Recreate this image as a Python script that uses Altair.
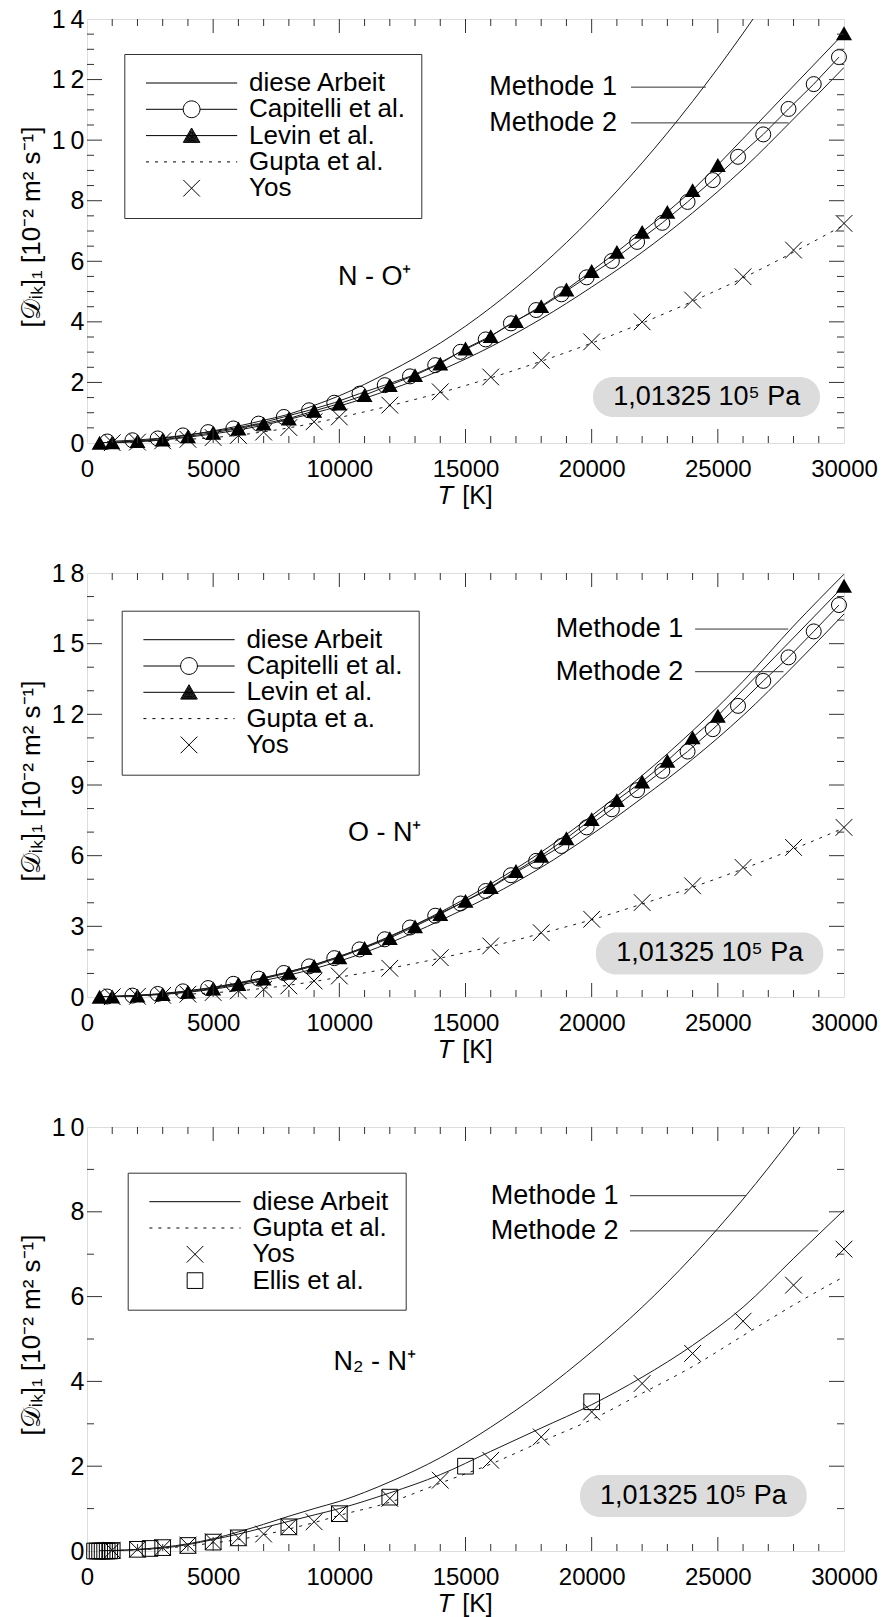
import altair as alt
import pandas as pd

FONT = "Liberation Sans"
W, H = 757, 424

# ---------------------------------------------------------------- axes / ticks
X_LABELS = [0, 5000, 10000, 15000, 20000, 25000, 30000]
X_MAJOR = [5000, 10000, 15000, 20000, 25000]
X_MINOR = [1000, 2000, 3000, 4000, 6000, 7000, 8000, 9000, 11000, 12000, 13000, 14000,
           16000, 17000, 18000, 19000, 21000, 22000, 23000, 24000, 26000, 27000, 28000, 29000]

P1_Y_LABELS = [0, 2, 4, 6, 8, 10, 12, 14]
P1_Y_MINOR = [0.5, 1, 1.5, 2.5, 3, 3.5, 4.5, 5, 5.5, 6.5, 7, 7.5, 8.5, 9, 9.5,
              10.5, 11, 11.5, 12.5, 13, 13.5]
P2_Y_LABELS = [0, 3, 6, 9, 12, 15, 18]
P2_Y_MINOR = [1, 2, 4, 5, 7, 8, 10, 11, 13, 14, 16, 17]
P3_Y_LABELS = [0, 2, 4, 6, 8, 10]
P3_Y_MINOR = [1, 3, 5, 7, 9]
X_TITLE = "𝑇 [K]"
Y_TITLE = "[𝒟ᵢₖ]₁  [10⁻² m² s⁻¹]"

# ---------------------------------------------------------------- temperatures
T_LINE = [500, 1000, 2000, 3000, 4000, 5000, 6000, 7000, 8000, 9000, 10000,
          12000, 14000, 16000, 18000, 20000, 22000, 24000, 26000, 28000, 30000]
T_LEVIN = [500, 1000, 2000, 3000, 4000, 5000, 6000, 7000, 8000, 9000, 10000, 11000,
           12000, 13000, 14000, 15000, 16000, 17000, 18000, 19000, 20000, 21000,
           22000, 23000, 24000, 25000, 30000]
T_CAP = [800, 1800, 2800, 3800, 4800, 5800, 6800, 7800, 8800, 9800, 10800, 11800,
         12800, 13800, 14800, 15800, 16800, 17800, 18800, 19800, 20800, 21800,
         22800, 23800, 24800, 25800, 26800, 27800, 28800, 29800]
T_YOS = [1000, 2000, 3000, 4000, 5000, 6000, 7000, 8000, 9000, 10000,
         12000, 14000, 16000, 18000, 20000, 22000, 24000, 26000, 28000, 30000]
T_ELLIS = [300, 400, 500, 600, 700, 800, 900, 1000, 2000, 2500, 3000, 4000, 5000,
           6000, 8000, 10000, 12000, 15000, 20000]

# ---------------------------------------------------------------- panel 1: N - O+
P1_M1 = [0.002, 0.02, 0.07, 0.15, 0.26, 0.4, 0.56, 0.75, 0.95, 1.24, 1.56, 2.36, 3.3,
         4.47, 5.85, 7.44, 9.25, 11.28, 13.53, 16.0, 18.7]
P1_M2 = [0.002, 0.01, 0.04, 0.1, 0.19, 0.3, 0.43, 0.59, 0.78, 0.99, 1.22, 1.76, 2.4,
         3.18, 4.1, 5.15, 6.3, 7.6, 9.05, 10.7, 12.4]
P1_LEVIN = [0.01, 0.02, 0.06, 0.11, 0.22, 0.34, 0.48, 0.64, 0.81, 1.06, 1.30, 1.58,
            1.91, 2.24, 2.62, 3.12, 3.53, 4.03, 4.52, 5.07, 5.68, 6.31, 6.97, 7.63,
            8.35, 9.18, 13.53]
P1_CAP = [0.05, 0.09, 0.15, 0.25, 0.36, 0.48, 0.64, 0.86, 1.08, 1.33, 1.63, 1.91,
          2.2, 2.57, 3.01, 3.42, 3.95, 4.39, 4.91, 5.47, 6.01, 6.64, 7.27, 7.96,
          8.68, 9.45, 10.19, 11.03, 11.85, 12.74]
P1_YOS = [0.01, 0.03, 0.07, 0.12, 0.18, 0.25, 0.36, 0.51, 0.7, 0.86, 1.25, 1.69,
          2.18, 2.73, 3.34, 4.0, 4.72, 5.49, 6.37, 7.25]
P1_GUPTA = [0.01, 0.03, 0.07, 0.12, 0.18, 0.26, 0.37, 0.5, 0.66, 0.84, 1.23, 1.66,
            2.15, 2.7, 3.3, 3.96, 4.68, 5.45, 6.3, 7.2]

# ---------------------------------------------------------------- panel 2: O - N+
P2_M1 = [0.005, 0.02, 0.07, 0.14, 0.25, 0.4, 0.58, 0.8, 1.07, 1.37, 1.72, 2.58, 3.6,
         4.8, 6.15, 7.7, 9.4, 11.3, 13.4, 15.75, 17.95]
P2_M2 = [0.003, 0.01, 0.05, 0.11, 0.2, 0.33, 0.5, 0.7, 0.93, 1.2, 1.52, 2.3, 3.25,
         4.3, 5.5, 6.9, 8.45, 10.1, 11.95, 14.05, 16.26]
P2_LEVIN = [0.01, 0.02, 0.06, 0.12, 0.22, 0.36, 0.55, 0.78, 1.03, 1.32, 1.68, 2.08,
            2.5, 3.0, 3.52, 4.08, 4.67, 5.35, 5.99, 6.74, 7.55, 8.36, 9.15, 10.03,
            11.02, 11.94, 17.46]
P2_CAP = [0.02, 0.06, 0.13, 0.24, 0.38, 0.56, 0.78, 1.02, 1.3, 1.65, 2.02, 2.45,
          2.95, 3.45, 3.97, 4.5, 5.17, 5.78, 6.41, 7.2, 7.97, 8.78, 9.6, 10.42,
          11.37, 12.36, 13.42, 14.42, 15.52, 16.64]
P2_YOS = [0.01, 0.03, 0.07, 0.12, 0.19, 0.26, 0.33, 0.47, 0.68, 0.89, 1.22, 1.67,
          2.17, 2.73, 3.3, 4.01, 4.72, 5.5, 6.35, 7.2]
P2_GUPTA = [0.01, 0.03, 0.07, 0.12, 0.18, 0.26, 0.37, 0.5, 0.66, 0.84, 1.22, 1.65,
            2.14, 2.7, 3.28, 3.95, 4.66, 5.44, 6.28, 7.18]

# ---------------------------------------------------------------- panel 3: N2 - N+
P3_M1 = [0.003, 0.01, 0.04, 0.09, 0.17, 0.29, 0.45, 0.63, 0.82, 1.0, 1.17, 1.63, 2.2,
         2.92, 3.75, 4.7, 5.75, 6.95, 8.3, 9.8, 11.4]
P3_M2 = [0.002, 0.01, 0.03, 0.07, 0.15, 0.27, 0.4, 0.55, 0.7, 0.85, 1.0, 1.37, 1.8,
         2.35, 2.9, 3.45, 4.1, 4.85, 5.75, 6.9, 8.04]
P3_YOS = [0.02, 0.04, 0.08, 0.14, 0.22, 0.31, 0.4, 0.57, 0.69, 0.88, 1.24, 1.67,
          2.14, 2.69, 3.28, 3.95, 4.66, 5.42, 6.27, 7.12]
P3_GUPTA = [0.01, 0.03, 0.06, 0.12, 0.19, 0.27, 0.38, 0.52, 0.67, 0.84, 1.15, 1.6,
            2.05, 2.58, 3.1, 3.72, 4.35, 5.08, 5.8, 6.47]
P3_ELLIS = [0.0, 0.0, 0.0, 0.0, 0.0, 0.0, 0.0, 0.01, 0.04, 0.06, 0.08, 0.13, 0.21,
            0.31, 0.57, 0.88, 1.27, 2.0, 3.52]

# ---------------------------------------------------------------- annotations
SPECIES = ["N - O⁺", "O - N⁺", "N₂ - N⁺"]
SPECIES_T = [11400, 11800, 11400]
SPECIES_D = [5.49, 6.98, 4.46]
METH_LABELS = ["Methode 1", "Methode 2"]
METH_TEXT_T = [21000, 23630, 21060]
METH1_D = [11.75, 15.62, 8.38]
METH2_D = [10.57, 13.81, 7.55]
LEADER_T0 = [21560, 24100, 21520]
LEADER1_T1 = [24520, 27790, 26120]
LEADER2_T1 = [27800, 27600, 28980]
PRESS_TEXT = "1,01325 10⁵ Pa"
PRESS_T1 = [20050, 20170, 19540]
PRESS_T2 = [29050, 29180, 28520]
PRESS_D1 = [0.86, 0.96, 0.80]
PRESS_D2 = [2.18, 2.74, 1.79]
PRESS_TC = [24560, 24680, 24030]
PRESS_DC = [1.52, 1.85, 1.30]

LEG1 = ["diese Arbeit", "Capitelli et al.", "Levin et al.", "Gupta et al.", "Yos"]
LEG2 = ["diese Arbeit", "Capitelli et al.", "Levin et al.", "Gupta et a.", "Yos"]
LEG3 = ["diese Arbeit", "Gupta et al.", "Yos", "Ellis et al."]
LEG_X = [37.3, 34.7, 40.7]
LEG_Y = [35.0, 37.7, 45.7]

# ---------------------------------------------------------------- symbol paths (style)
XPATH = "M-1,-1L1,1M-1,1L1,-1"


def dash_path(x0=-5.7, x1=5.7, dash=0.375, gap=0.75):
    parts, x = [], x0
    while x < x1:
        e = min(x + dash, x1)
        parts.append(f"M{x:.3f},0L{e:.3f},0")
        x += dash + gap
    return "".join(parts)


def filled_triangle(ks=(1, 0.86, 0.72, 0.58, 0.44, 0.3, 0.16, 0.05)):
    pts = [(0, -0.95), (1.04, 0.85), (-1.04, 0.85)]
    cy = sum(p[1] for p in pts) / 3
    out = ""
    for k in ks:
        q = [(k * px, cy + k * (py - cy)) for px, py in pts]
        out += f"M{q[0][0]:.3f},{q[0][1]:.3f}L{q[1][0]:.3f},{q[1][1]:.3f}L{q[2][0]:.3f},{q[2][1]:.3f}Z"
    return out


LEG_LINE = "M-5.7,0L5.7,0"
LEG_CIRC = "M-5.7,0L-1.05,0M1.05,0L5.7,0M1.05,0A1.05,1.05,0,1,1,-1.05,0A1.05,1.05,0,1,1,1.05,0Z"
LEG_TRI = "M-5.7,0L5.7,0" + filled_triangle()
LEG_DOT = dash_path()
LEG_X_SYM = "M-1.04,-1.04L1.04,1.04M-1.04,1.04L1.04,-1.04"
LEG_SQ = "M-0.98,-0.98L0.98,-0.98L0.98,0.98L-0.98,0.98Z"

LINE_COLOR = "#1a1a1a"
FRAME = "#333333"


def ylabel_expr():
    return ("length(datum.label) > 1 ? substring(datum.label, 0, 1) + '\u2009' + "
            "substring(datum.label, 1) : datum.label")


def panel(i, ymax, ylabels, yminor, curves, levin, cap, yos, gupta, ellis, legend_names,
          legend_shapes, label_pad):
    xaxis = alt.Axis(values=X_LABELS, format="d", ticks=False, tickSize=0, domain=False,
                     grid=False, labelFontSize=24, labelPadding=14, labelFlush=False,
                     labelColor="black", labelFont=FONT,
                     title=X_TITLE, titleFontSize=25, titleFontWeight="normal",
                     titleFont=FONT, titleColor="black", titleY=52,
                     titleBaseline="middle")
    yaxis = alt.Axis(values=ylabels, ticks=False, tickSize=0, domain=False, grid=False,
                     labelFontSize=25, labelPadding=3, labelColor="black", labelFont=FONT,
                     labelExpr=ylabel_expr(), title=None)
    X = alt.X("T:Q", scale=alt.Scale(domain=[0, 30000], nice=False, zero=False), axis=xaxis)
    Y = alt.Y("D:Q", scale=alt.Scale(domain=[0, ymax], nice=False, zero=False), axis=yaxis)

    layers = []
    # pressure box
    box = pd.DataFrame({"T": [PRESS_T1[i]], "T2": [PRESS_T2[i]],
                        "D": [PRESS_D1[i]], "D2": [PRESS_D2[i]]})
    layers.append(alt.Chart(box).mark_rect(color="#dcdcdc", cornerRadius=20).encode(
        x=X, x2="T2:Q", y=Y, y2="D2:Q"))
    ptxt = pd.DataFrame({"T": [PRESS_TC[i]], "D": [PRESS_DC[i]], "txt": [PRESS_TEXT]})
    layers.append(alt.Chart(ptxt).mark_text(fontSize=27, font=FONT, color="black",
                                            align="center", baseline="middle").encode(
        x=X, y=Y, text="txt:N"))

    # curves (diese Arbeit, Methode 1 and 2)
    for vals in curves:
        df = pd.DataFrame({"T": T_LINE, "D": vals})
        layers.append(alt.Chart(df).mark_line(color=LINE_COLOR, strokeWidth=1, clip=True,
                                              interpolate="monotone").encode(x=X, y=Y))
    if gupta is not None:
        df = pd.DataFrame({"T": T_YOS, "D": gupta})
        layers.append(alt.Chart(df).mark_line(color=LINE_COLOR, strokeWidth=1, clip=True,
                                              strokeDash=[3, 6],
                                              interpolate="monotone").encode(x=X, y=Y))
    if cap is not None:
        df = pd.DataFrame({"T": T_CAP, "D": cap})
        layers.append(alt.Chart(df).mark_line(color=LINE_COLOR, strokeWidth=1).encode(x=X, y=Y))
        layers.append(alt.Chart(df).mark_point(shape="circle", filled=False, size=225,
                                               color="black", strokeWidth=1,
                                               opacity=1).encode(x=X, y=Y))
    if levin is not None:
        df = pd.DataFrame({"T": T_LEVIN, "D": levin})
        layers.append(alt.Chart(df).mark_line(color=LINE_COLOR, strokeWidth=1).encode(x=X, y=Y))
        layers.append(alt.Chart(df).mark_point(shape="triangle-up", filled=True, size=256,
                                               color="black", opacity=1).encode(x=X, y=Y))
    if yos is not None:
        df = pd.DataFrame({"T": T_YOS, "D": yos})
        layers.append(alt.Chart(df).mark_point(shape=XPATH, filled=False, size=280,
                                               color="black", strokeWidth=1,
                                               opacity=1).encode(x=X, y=Y))
    if ellis is not None:
        df = pd.DataFrame({"T": T_ELLIS, "D": ellis})
        layers.append(alt.Chart(df).mark_point(shape="square", filled=False, size=246,
                                               color="black", strokeWidth=1,
                                               opacity=1).encode(x=X, y=Y))

    # inward ticks on all four sides
    def xt(vals, length):
        d = pd.DataFrame({"T": vals})
        return [alt.Chart(d).mark_rule(color=FRAME, strokeWidth=1).encode(
                    x=X, y=alt.value(H), y2=alt.value(H - length)),
                alt.Chart(d).mark_rule(color=FRAME, strokeWidth=1).encode(
                    x=X, y=alt.value(0), y2=alt.value(length))]

    def yt(vals, length):
        d = pd.DataFrame({"D": vals})
        return [alt.Chart(d).mark_rule(color=FRAME, strokeWidth=1).encode(
                    y=Y, x=alt.value(0), x2=alt.value(length)),
                alt.Chart(d).mark_rule(color=FRAME, strokeWidth=1).encode(
                    y=Y, x=alt.value(W), x2=alt.value(W - length))]

    layers += xt(X_MAJOR, 14) + xt(X_MINOR, 7)
    layers += yt(ylabels[1:-1], 15) + yt(yminor, 7)

    # y-axis title (rotated text, reading upwards, centred on the plot height)
    yt_df = pd.DataFrame({"txt": [Y_TITLE]})
    layers.append(alt.Chart(yt_df).mark_text(fontSize=26, font=FONT, color="black",
                                             angle=270, align="center",
                                             baseline="middle").encode(
        x=alt.value(-55), y=alt.value(H / 2 - 4), text="txt:N"))

    # species label
    sp = pd.DataFrame({"T": [SPECIES_T[i]], "D": [SPECIES_D[i]], "txt": [SPECIES[i]]})
    layers.append(alt.Chart(sp).mark_text(fontSize=27, font=FONT, color="black",
                                          align="center", baseline="middle").encode(
        x=X, y=Y, text="txt:N"))
    # Methode labels + leader lines
    ml = pd.DataFrame({"T": [METH_TEXT_T[i]] * 2, "D": [METH1_D[i], METH2_D[i]],
                       "txt": METH_LABELS})
    layers.append(alt.Chart(ml).mark_text(fontSize=27, font=FONT, color="black",
                                          align="right", baseline="middle").encode(
        x=X, y=Y, text="txt:N"))
    ld = pd.DataFrame({"T": [LEADER_T0[i]] * 2, "T2": [LEADER1_T1[i], LEADER2_T1[i]],
                       "D": [METH1_D[i], METH2_D[i]]})
    layers.append(alt.Chart(ld).mark_rule(color=FRAME, strokeWidth=1).encode(
        x=X, x2="T2:Q", y=Y))

    # legend (legend-only layer, no visible marks)
    lg = pd.DataFrame({"series": legend_names})
    legend = alt.Legend(title=None, orient="none", legendX=LEG_X[i], legendY=LEG_Y[i],
                        padding=16, strokeColor=FRAME, fillColor="white",
                        labelFont=FONT, labelFontSize=26, labelColor="black",
                        labelLimit=500, symbolSize=256, symbolStrokeWidth=1,
                        symbolStrokeColor="black", symbolOpacity=1,
                        symbolOffset=38.3, labelOffset=44.4, rowPadding=0.3,
                        direction="vertical",
                        labelExpr="datum.label + '" + label_pad + "'")
    layers.append(alt.Chart(lg).transform_filter("false").mark_point(
        size=256, color="black", strokeWidth=1, filled=False).encode(
        shape=alt.Shape("series:N", scale=alt.Scale(domain=legend_names, range=legend_shapes),
                        legend=legend)))

    return alt.layer(*layers).properties(width=W, height=H)


p1 = panel(0, 14, P1_Y_LABELS, P1_Y_MINOR, [P1_M1, P1_M2], P1_LEVIN, P1_CAP, P1_YOS,
           P1_GUPTA, None, LEG1, [LEG_LINE, LEG_CIRC, LEG_TRI, LEG_DOT, LEG_X_SYM],
           "\u2003")
p2 = panel(1, 18, P2_Y_LABELS, P2_Y_MINOR, [P2_M1, P2_M2], P2_LEVIN, P2_CAP, P2_YOS,
           P2_GUPTA, None, LEG2, [LEG_LINE, LEG_CIRC, LEG_TRI, LEG_DOT, LEG_X_SYM],
           "\u2003")
p3 = panel(2, 10, P3_Y_LABELS, P3_Y_MINOR, [P3_M1, P3_M2], None, None, P3_YOS,
           P3_GUPTA, P3_ELLIS, LEG3, [LEG_LINE, LEG_DOT, LEG_X_SYM, LEG_SQ], "")

chart = alt.vconcat(p1, p2, p3, spacing=51).resolve_scale(
    shape="independent").resolve_legend(shape="independent").properties(
    padding={"left": 18, "top": 6, "right": 5, "bottom": 5},
    background="white",
).configure_view(stroke=FRAME, strokeWidth=1).configure(font=FONT)

chart.save("out.html", embed_options={"renderer": "svg", "actions": False})
